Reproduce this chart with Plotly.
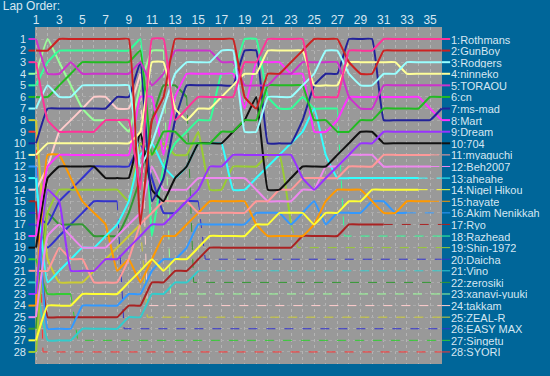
import plotly.graph_objects as go

laps = list(range(1, 37))
x_ticks = list(range(1, 36, 2))
y_ticks = list(range(1, 29))

names = ["Rothmans", "GunBoy", "Rodgers", "ninneko", "TORAOU", "cn", "ms-mad", "Mart",
         "Dream", "704", "myaguchi", "Beh2007", "aheahe", "Nigel Hikou", "hayate",
         "Akim Nenikkah", "Ryo", "Razhead", "Shin-1972", "Daicha", "Vino", "zerosiki",
         "xanavi-yuuki", "takkam", "ZEAL-R", "EASY MAX", "Singetu", "SYORI"]
final_pos = list(range(1, 29))

colors = ["#FF3399", "#CC2222", "#99FFFF", "#FFFF99", "#CC33CC", "#22BB22", "#222299", "#FF33FF",
          "#9933FF", "#111111", "#FF9999", "#EE88EE", "#33FFFF", "#FFFF33", "#FF9900",
          "#3399FF", "#AA2222", "#33FF99", "#99CC33", "#3333CC", "#33CCCC", "#339933",
          "#99FF99", "#FFCCCC", "#CCCC33", "#3333CC", "#33CC33", "#FF3333"]

rothmans = [3, 8, 9, 9, 9, 9, 8, 8, 8, 14, 1, 1, 8, 7, 6, 6, 6, 6, 3, 3, 1, 1, 1, 1, 6, 6, 6, 2, 2, 2, 1, 1, 1, 1, 1, 1]
gunboy = [2, 2, 1, 1, 1, 1, 1, 1, 1, 17, 8, 6, 1, 1, 1, 1, 1, 1, 6, 7, 4, 4, 3, 2, 1, 1, 1, 3, 4, 4, 2, 2, 2, 2, 2, 2]
rodgers = [7, 5, 6, 6, 5, 5, 5, 5, 5, 12, 10, 7, 4, 3, 3, 3, 2, 2, 9, 9, 6, 6, 6, 5, 4, 2, 2, 4, 5, 5, 4, 4, 3, 3, 3, 3]
ninneko = [11, 10, 10, 10, 10, 10, 10, 10, 10, 9, 3, 3, 7, 8, 7, 7, 6, 5, 4, 4, 2, 2, 2, 2, 5, 5, 5, 3, 3, 3, 3, 3, 4, 4, 4, 4]
toraou = [1, 4, 4, 3, 4, 4, 4, 4, 4, 3, 5, 4, 2, 2, 2, 2, 3, 3, 5, 5, 5, 4, 4, 3, 3, 3, 3, 6, 7, 7, 5, 5, 5, 5, 5, 5]
cn = [6, 6, 5, 4, 3, 3, 3, 3, 3, 2, 11, 9, 9, 10, 10, 10, 9, 9, 8, 8, 5, 5, 5, 5, 8, 8, 9, 9, 8, 8, 7, 7, 7, 7, 6, 6]
ms_mad = [10, 7, 7, 7, 7, 7, 7, 6, 6, 3, 15, 13, 8, 5, 5, 5, 5, 5, 2, 2, 10, 10, 10, 8, 5, 4, 4, 1, 1, 1, 8, 8, 8, 8, 8, 7]
mart = [18, 12, 11, 11, 11, 11, 11, 11, 11, 6, 6, 11, 6, 4, 4, 4, 4, 4, 7, 3, 3, 3, 4, 4, 9, 9, 8, 6, 6, 6, 6, 6, 6, 6, 7, 8]
dream = [23, 14, 15, 21, 21, 21, 20, 20, 19, 18, 17, 17, 16, 15, 14, 12, 12, 11, 11, 11, 11, 11, 11, 13, 14, 13, 12, 11, 10, 10, 9, 9, 9, 9, 9, 9]
d704 = [19, 13, 12, 12, 12, 12, 13, 13, 13, 9, 14, 15, 13, 12, 10, 10, 10, 9, 8, 6, 14, 14, 13, 12, 12, 12, 11, 10, 9, 9, 10, 10, 10, 10, 10, 10]
myaguchi = [21, 21, 19, 20, 20, 22, 22, 22, 20, 17, 16, 15, 15, 15, 16, 16, 16, 16, 16, 15, 15, 14, 14, 13, 13, 13, 13, 12, 12, 12, 11, 11, 11, 11, 11]
beh2007 = [25, 18, 17, 18, 19, 19, 19, 18, 17, 16, 12, 14, 14, 14, 13, 13, 13, 13, 13, 14, 15, 15, 15, 14, 14, 12, 12, 11, 11, 11, 12, 12, 12, 12, 12]
aheahe = [13, 22, 21, 20, 19, 19, 18, 17, 15, 11, 10, 12, 13, 12, 10, 10, 10, 14, 14, 13, 12, 11, 10, 9, 7, 11, 13, 13, 13, 13, 13, 13, 13, 13]
nigel = [27, 24, 24, 24, 23, 23, 23, 23, 22, 21, 20, 21, 20, 20, 19, 18, 18, 18, 18, 17, 17, 16, 16, 16, 17, 16, 16, 15, 15, 14, 14, 14, 14, 14]
hayate = [24, 11, 11, 13, 15, 16, 17, 21, 20, 22, 20, 18, 18, 17, 16, 15, 15, 15, 15, 17, 18, 18, 18, 18, 17, 15, 14, 14, 14, 15, 16, 16, 15, 15, 15]
akim = [12, 26, 26, 26, 24, 24, 24, 24, 23, 23, 21, 20, 20, 19, 17, 17, 17, 17, 17, 16, 16, 16, 17, 16, 15, 17, 16, 16, 16, 15, 15, 16, 16]
ryo = [15, 25, 25, 25, 25, 25, 25, 25, 24, 24, 22, 22, 21, 21, 20, 19, 19, 19, 19, 19, 19, 19, 19, 18, 18, 18, 18, 17, 17, 17, 17]
razhead = [5, 3, 2, 2, 2, 2, 2, 2, 2, 1, 18, 12, 10, 9, 8, 8, 4, 4, 1, 1, 6, 7, 7, 6, 7, 7, 7]
shin = [28, 16, 14, 14, 14, 14, 14, 14, 15, 10, 11, 10, 11, 11, 9, 14, 14, 12, 12, 12, 11, 11, 17]
daicha = [16, 17, 15, 14, 13, 12, 12, 12, 12, 10, 13, 16, 16, 15, 15]
vino = [22, 27, 27, 27, 26, 26, 26, 26, 25, 25, 23, 23, 22, 22, 21]
zerosiki = [26, 16, 17, 17, 17, 18, 18, 18, 16, 13, 8, 5, 5, 6]
xanavi = [4, 1, 3, 5, 7, 8, 8, 8, 9, 5, 2, 2]
takkam = [14, 12, 9, 8, 7, 6, 6, 7, 7, 4]
zeal_r = [8, 20, 22, 22, 22, 21, 20, 19, 18, 17]
easy_max = [17, 19, 18, 17, 16, 15, 15, 15]
singetu = [20, 23, 23, 23]
syori = [9]

positions = [rothmans, gunboy, rodgers, ninneko, toraou, cn, ms_mad, mart, dream, d704,
             myaguchi, beh2007, aheahe, nigel, hayate, akim, ryo, razhead, shin, daicha,
             vino, zerosiki, xanavi, takkam, zeal_r, easy_max, singetu, syori]

TEXT = "#D6E6F2"
FONT = "Liberation Sans, Arial, sans-serif"

fig = go.Figure()
order = list(range(len(names)))[::-1]
for i in order:
    pos = positions[i]
    col = colors[i]
    fin = final_pos[i]
    n = len(pos)
    last = laps[n - 1]
    if n > 1:
        fig.add_trace(go.Scatter(x=laps[:n], y=pos, mode="lines", hoverinfo="skip",
                                 line=dict(color=col, width=2, shape="spline", smoothing=0.3)))
    if n < len(laps):
        fig.add_trace(go.Scatter(x=[last, last + 0.6, laps[-1]], y=[pos[-1], fin, fin],
                                 mode="lines", hoverinfo="skip",
                                 line=dict(color=col, width=1, dash="dash")))
    fig.add_shape(type="line", xref="paper", yref="y", x0=-0.016, x1=0, y0=pos[0], y1=pos[0],
                  line=dict(color=col, width=2))
    fig.add_shape(type="line", xref="paper", yref="y", x0=1, x1=1.02, y0=fin, y1=fin,
                  line=dict(color=col, width=2 if n == len(laps) else 1,
                            dash="solid" if n == len(laps) else "dash"))
    fig.add_annotation(xref="paper", yref="y", x=1.02, y=fin, text=f"{fin}:{names[i]}",
                       xanchor="left", yanchor="middle", showarrow=False,
                       borderpad=0, height=11,
                       font=dict(family=FONT, size=11, color=TEXT))

fig.update_layout(
    width=550, height=376,
    margin=dict(l=35, r=108, t=27, b=12, autoexpand=False),
    paper_bgcolor="#006699",
    plot_bgcolor="#999999",
    showlegend=False,
    hovermode=False,
    title=dict(text="Lap Order:", x=0.005, xanchor="left", y=0.997, yanchor="top",
               font=dict(family=FONT, size=12, color=TEXT)),
    xaxis=dict(range=[0.91, 36.03], side="top", tickvals=x_ticks, showgrid=True,
               gridcolor="#B4B4B4", griddash="dot", gridwidth=1, zeroline=False,
               tickfont=dict(family=FONT, size=12, color=TEXT), showline=False,
               ticklabelstandoff=0, automargin=False,
               minor=dict(dtick=1, showgrid=True, gridcolor="#B4B4B4", griddash="dot")),
    yaxis=dict(range=[29.04, -0.035], tickvals=y_ticks, showgrid=True,
               gridcolor="#ABABAB", griddash="dot", gridwidth=1, zeroline=False,
               tickfont=dict(family=FONT, size=11, color=TEXT), ticklabelstandoff=8,
               automargin=False),
)

fig.write_html("out.html", config={"displayModeBar": False})

with open("out.html", "r", encoding="utf-8") as fh:
    html = fh.read()
html = html.replace("<head>", "<head><style>html,body{margin:0;padding:0;background:#006699;overflow:hidden;}</style>", 1)
with open("out.html", "w", encoding="utf-8") as fh:
    fh.write(html)
